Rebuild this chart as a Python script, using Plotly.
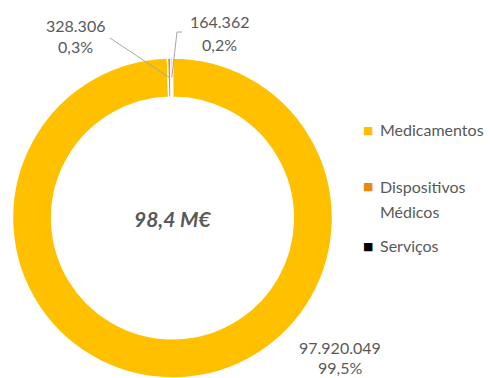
import math
import plotly.graph_objects as go

categories = ["Medicamentos", "Dispositivos Médicos", "Serviços"]
legend_lines = [["Medicamentos"], ["Dispositivos", "Médicos"], ["Serviços"]]
values = [97920049, 328306, 164362]
value_labels = ["97.920.049", "328.306", "164.362"]
pct_labels = ["99,5%", "0,3%", "0,2%"]
colors = ["#FFC000", "#E88A0C", "#000000"]
center_label = "98,4 M€"

W, H = 491, 378
FONT = "Lato"
GREY = "#595959"
FS = 16

# pie geometry (pixels)
cx, cy, R = 172.5, 218.0, 160.0
hole = 0.755

fig = go.Figure(go.Pie(
    labels=categories, values=values, marker=dict(colors=colors, line=dict(color="white", width=1.5)),
    hole=hole, sort=False, direction="clockwise", rotation=0, textinfo="none",
    hoverinfo="label+value+percent", showlegend=False,
    domain=dict(x=[(cx - R) / W, (cx + R) / W], y=[(H - cy - R) / H if H - cy - R > 0 else 0, min(1, (H - cy + R) / H)]),
))

def to_paper(px, py):
    return px / W, 1 - py / H

def text_ann(px, py, text, size=FS, anchor="center", color=GREY, family=FONT):
    x, y = to_paper(px, py)
    return dict(x=x, y=y, xref="paper", yref="paper", showarrow=False,
                xanchor=anchor, yanchor="middle", text=text,
                font=dict(family=family, size=size, color=color))

total = sum(values)
cum = 0
mids = []
for v in values:
    mids.append((cum + v / 2) / total * 2 * math.pi)
    cum += v

rm = R * (1 + hole) / 2

def slice_point(i):
    a = mids[i]
    return cx + rm * math.sin(a), cy - rm * math.cos(a)

annotations = []
shapes = []
# label centres (pixels): (x, y of first line, y of second line)
label_pos = [(340, 347, 367), (75, 25, 47), (219, 22, 44)]
for i in range(3):
    lx, ly1, ly2 = label_pos[i]
    annotations.append(text_ann(lx, ly1, value_labels[i]))
    annotations.append(text_ann(lx, ly2, pct_labels[i]))

# leader lines for the small slices
px1, py1 = slice_point(1)
x0, y0 = to_paper(110, 38)
x1, y1 = to_paper(px1, py1)
shapes.append(dict(type="line", xref="paper", yref="paper", x0=x0, y0=y0, x1=x1, y1=y1,
                   line=dict(color="#A6A6A6", width=1)))
px2, py2 = slice_point(2)
a0 = to_paper(182, 32)
a1 = to_paper(177, 32)
a2 = to_paper(px2, py2)
shapes.append(dict(type="path", xref="paper", yref="paper",
                   path=f"M {a0[0]} {a0[1]} L {a1[0]} {a1[1]} L {a2[0]} {a2[1]}",
                   line=dict(color="#A6A6A6", width=1)))

# center text
annotations.append(text_ann(cx, cy, f"<b><i>{center_label}</i></b>", size=21))

# legend
leg_y = [129, 186, 245]
for i in range(3):
    annotations.append(text_ann(368, leg_y[i] + 1, "■", size=11, color=colors[i], family="DejaVu Sans"))
    for j, line in enumerate(legend_lines[i]):
        annotations.append(text_ann(378, leg_y[i] + 25 * j, line, anchor="left"))

fig.update_layout(width=W, height=H, margin=dict(l=0, r=0, t=0, b=0),
                  paper_bgcolor="white", plot_bgcolor="white",
                  annotations=annotations, shapes=shapes)

fig.write_html("out.html")
